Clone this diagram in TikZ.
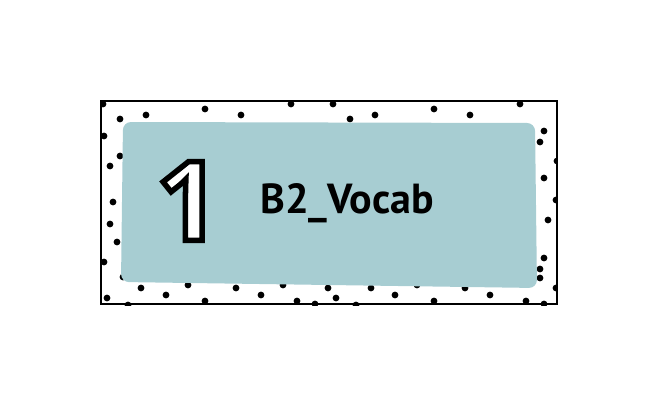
\documentclass[tikz,border=0pt]{standalone}
\usepackage{fontspec}
\newfontfamily\numfont{Open Sans}[RawFeature={embolden=5}]
\newfontfamily\labelfont{PT Sans}
\definecolor{cardteal}{RGB}{167,205,210}

\begin{document}
\begin{tikzpicture}[x = 1pt, y = -1pt]
            \useasboundingbox (0, 0) rectangle (659, 407);

            \begin{scope}
                \clip (101, 101) rectangle (557, 305);
                \foreach \px/\py in {103/104, 120/119, 146/115, 205/109, 241/115, 291/104,
                        333/104, 350/119, 375/115, 434/109, 470/115, 520/104, 544/131,
                        123/277, 141/288, 107/298, 166/295, 188/285, 205/301, 236/288,
                        261/295, 283/285, 297/301, 315/304, 128/305, 328/288, 336/298,
                        371/288, 395/295, 417/285, 434/301, 465/288, 490/295, 526/301,
                        540/278, 544/304, 356/305, 556/288,
                        104/136, 120/156, 110/166, 113/202, 110/224, 117/242, 104/262,
                        540/142, 557/161, 544/178, 556/200, 548/220, 544/258, 540/269}
                    \fill (\px, \py) circle (3.4);
            \end{scope}

            \fill[cardteal, rounded corners = 8] (123, 122) -- (535, 123) -- (537, 288) -- (121, 282) -- cycle;
            \draw[line width = 2.4] (101, 101) rectangle (557, 304);

            \node (num) at (188, 201) {\fontsize{110}{110}\selectfont\numfont\bfseries\color{white}\special{pdf:code 0 G}1};
            \node (title) at (347, 203) {\fontsize{42}{42}\selectfont\labelfont\bfseries B2\_Vocab};

        \end{tikzpicture}
\end{document}
